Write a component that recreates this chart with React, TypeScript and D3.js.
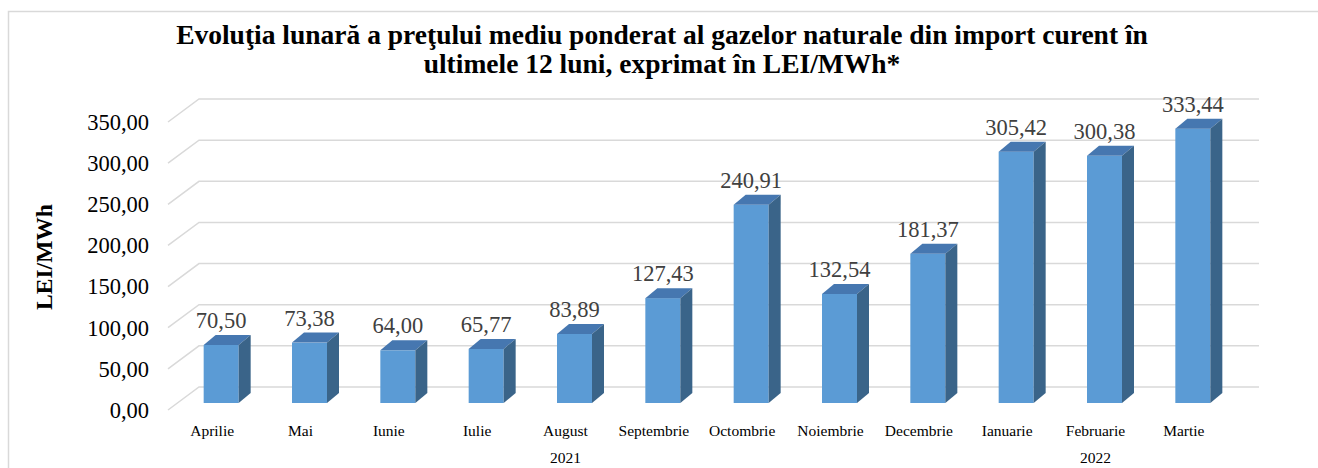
import React from "react";
import * as d3 from "d3";

const months = ["Aprilie","Mai","Iunie","Iulie","August","Septembrie","Octombrie","Noiembrie","Decembrie","Ianuarie","Februarie","Martie"];
const values = [70.50, 73.38, 64.00, 65.77, 83.89, 127.43, 240.91, 132.54, 181.37, 305.42, 300.38, 333.44];
const yTicks = [0, 50, 100, 150, 200, 250, 300, 350];
const years = [{ label: "2021", from: 0, to: 9 }, { label: "2022", from: 9, to: 12 }];
const titleLines = [
  "Evoluţia lunară a preţului mediu ponderat al gazelor naturale din import curent în",
  "ultimele 12 luni, exprimat în LEI/MWh*",
];

const fmt = (v: number) => v.toFixed(2).replace(".", ",");

export default function App() {
  const W = 1318, H = 468;
  const frontLeft = 168, frontRight = 1228;
  const depthX = 31, depthY = -23;
  const x = d3.scaleBand<string>().domain(months).range([frontLeft, frontRight]).paddingInner(0).paddingOuter(0);
  const y = d3.scaleLinear().domain([0, 350]).range([410, 122]);
  const barW = 35;
  const bdx = 9, bdy = -7;
  const sdx = 12, sdy = -10;
  const grid = "#D9D9D9";
  const serif = "Liberation Serif, Times New Roman, DejaVu Serif, serif";
  const ts = { fontFamily: serif } as React.CSSProperties;

  return (
    <svg width={W} height={H} style={{ position: "absolute", left: 0, top: 0, background: "#fff" }}>
      <rect x={8.5} y={11.5} width={W + 20} height={H + 20} fill="none" stroke="#D9D9D9" strokeWidth={1.5} />
      {titleLines.map((t, i) => (
        <text key={i} x={662} y={44 + i * 29} textAnchor="middle" style={ts} fontWeight="bold" fontSize={27.5} fill="#000">{t}</text>
      ))}
      {yTicks.map((v) => {
        const fy = y(v);
        return (
          <g key={v}>
            <polyline
              points={`${frontLeft},${fy} ${frontLeft + depthX},${fy + depthY} ${frontRight + depthX},${fy + depthY}`}
              fill="none" stroke={grid} strokeWidth={1.5} />
            <text x={149} y={fy} dy="0.35em" textAnchor="end" style={ts} fontSize={22.5} fill="#000">{fmt(v)}</text>
          </g>
        );
      })}
      <text transform={`translate(52,257) rotate(-90)`} textAnchor="middle" style={ts} fontWeight="bold" fontSize={23.5} fill="#000">LEI/MWh</text>
      {months.map((m, i) => {
        const v = values[i];
        const x0 = (x(m) as number) + (x.bandwidth() - barW) / 2 + bdx;
        const yb = y(0) + bdy;
        const yt = y(v) + bdy;
        const x1 = x0 + barW;
        return (
          <g key={m}>
            <rect x={x0} y={yt} width={barW} height={yb - yt} fill="#5B9BD5" />
            <polygon points={`${x0},${yt} ${x0 + sdx},${yt + sdy} ${x1 + sdx},${yt + sdy} ${x1},${yt}`} fill="#4677B0" />
            <polygon points={`${x1},${yt} ${x1 + sdx},${yt + sdy} ${x1 + sdx},${yb + sdy} ${x1},${yb}`} fill="#3A6489" />
            <text x={x0 + barW / 2} y={yt - 17} textAnchor="middle" style={ts} fontSize={22.5} fill="#404040">{fmt(v)}</text>
            <text x={(x(m) as number) + x.bandwidth() / 2} y={436} textAnchor="middle" style={ts} fontSize={15.5} fill="#000">{m}</text>
          </g>
        );
      })}
      {years.map((yr) => {
        const a = x(months[yr.from]) as number;
        const b = yr.to >= months.length ? frontRight : (x(months[yr.to]) as number);
        return <text key={yr.label} x={(a + b) / 2} y={463} textAnchor="middle" style={ts} fontSize={15.5} fill="#000">{yr.label}</text>;
      })}
    </svg>
  );
}
